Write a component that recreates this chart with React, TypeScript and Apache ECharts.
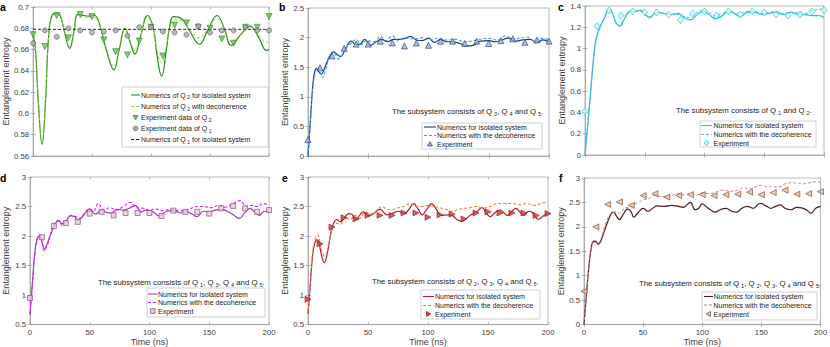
import React, { useEffect, useRef } from "react";
import * as echarts from "echarts";

const FONT = "'Liberation Sans', Arial, Helvetica, sans-serif";

// Experiment sampling times (ns)
const expTimes = [0, 10, 20, 30, 40, 50, 60, 70, 80, 90, 100, 110, 120, 130, 140, 150, 160, 170, 180, 190, 200];

// ---- Panel a ----
const aIso = [[0,0.676],[2,0.66],[4.5,0.61],[7.6,0.571],[10.5,0.61],[13,0.67],[16,0.692],[20,0.694],[23,0.692],[27,0.675],[31,0.661],[34.5,0.676],[38,0.693],[43,0.692],[47,0.6915],[52,0.692],[56,0.685],[62,0.66],[68.5,0.641],[73,0.66],[78,0.68],[82,0.668],[86.4,0.656],[91,0.672],[97,0.692],[102,0.68],[105,0.655],[109,0.635],[113,0.66],[116,0.683],[119,0.691],[126,0.689],[133,0.677],[141,0.665],[148,0.678],[156,0.692],[162,0.68],[168,0.664],[176,0.674],[184,0.682],[191,0.672],[198,0.659],[200,0.66]];
const aDec = [[0,0.676],[2,0.66],[4.5,0.612],[7.6,0.574],[10.5,0.612],[13,0.67],[16,0.691],[20,0.693],[23,0.691],[27,0.676],[31,0.663],[34.5,0.677],[38,0.692],[43,0.691],[47,0.69],[52,0.69],[56,0.684],[62,0.662],[68.5,0.644],[73,0.661],[78,0.679],[82,0.669],[86.4,0.659],[91,0.673],[97,0.69],[102,0.679],[105,0.66],[109,0.647],[113,0.664],[116,0.681],[119,0.688],[126,0.687],[133,0.678],[141,0.671],[148,0.679],[156,0.689],[162,0.68],[168,0.667],[176,0.674],[184,0.681],[191,0.674],[198,0.667],[200,0.667]];
const aQ1Num = [[0,0.679],[200,0.679]];
const aQ2Exp = [0.674,0.663,0.692,0.671,0.693,0.691,0.669,0.658,0.655,0.668,0.681,0.654,0.683,0.685,0.681,0.68,0.67,0.666,0.681,0.681,0.691];
const aQ1Exp = [0.666,0.678,0.672,0.68,0.678,0.676,0.677,0.678,0.673,0.681,0.681,0.677,0.676,0.674,0.682,0.676,0.678,0.678,0.681,0.678,0.678];

// ---- Panel b ----
const bIso = [[0,0],[2,0.6],[4,1.2],[5.5,1.42],[7,1.48],[9,1.42],[11,1.38],[14,1.5],[18,1.68],[21,1.76],[24,1.72],[27,1.68],[31,1.8],[36,1.94],[40,1.88],[44,1.9],[47,1.97],[52,1.87],[56,1.92],[61,1.97],[66,1.93],[71,1.97],[76,1.97],[81,1.99],[85,2.02],[90,1.96],[95,1.95],[100,1.99],[105,1.92],[110,1.97],[115,1.93],[120,1.93],[126,1.9],[132,1.86],[137,1.87],[143,1.94],[150,1.95],[155,1.93],[160,1.95],[166,1.99],[172,1.94],[178,1.96],[184,1.97],[190,1.92],[195,1.96],[200,1.92]];
const bDec = [[0,0],[2,0.6],[4,1.15],[6,1.4],[8,1.5],[10,1.42],[12,1.33],[15,1.48],[19,1.72],[22,1.72],[25,1.64],[28,1.7],[32,1.85],[36,1.9],[40,1.97],[44,1.88],[49,1.95],[55,1.93],[60,2.02],[65,1.95],[70,2.03],[75,1.95],[80,1.99],[88,1.98],[95,2.0],[100,1.96],[108,1.99],[115,1.96],[122,1.97],[130,1.93],[138,1.95],[145,1.98],[150,1.99],[157,1.96],[164,2.03],[170,1.98],[176,1.99],[182,2.01],[188,1.95],[195,1.99],[200,1.96]];
const bExp = [0.28,1.49,1.69,1.82,1.89,1.89,1.94,1.91,1.86,1.91,1.87,1.94,1.94,1.9,1.94,1.9,1.95,1.98,1.92,1.96,1.94];

// ---- Panel c ----
const cIso = [[0,0],[4,0.5],[8,1.0],[10,1.12],[12.5,1.2],[16,1.28],[20,1.37],[23,1.33],[26,1.24],[29,1.21],[33,1.28],[37.5,1.35],[42,1.35],[46,1.36],[50,1.33],[54,1.29],[60,1.34],[66,1.33],[72,1.32],[78,1.33],[83,1.29],[88,1.27],[94,1.32],[99,1.35],[104,1.32],[109,1.28],[115,1.31],[120,1.35],[125,1.33],[130,1.3],[136,1.34],[142,1.34],[148,1.32],[154,1.33],[160,1.34],[166,1.32],[172,1.34],[178,1.32],[184,1.32],[190,1.31],[196,1.31],[200,1.29]];
const cDec = [[0,0],[4,0.5],[8,1.0],[10,1.12],[12.5,1.2],[16,1.28],[20,1.36],[23,1.33],[26,1.25],[29,1.22],[33,1.28],[37.5,1.34],[42,1.35],[46,1.35],[50,1.32],[54,1.3],[60,1.34],[66,1.33],[72,1.32],[78,1.32],[83,1.3],[88,1.29],[94,1.34],[99,1.36],[104,1.34],[109,1.31],[115,1.33],[120,1.36],[125,1.34],[130,1.33],[136,1.35],[142,1.35],[148,1.33],[154,1.34],[160,1.35],[166,1.33],[172,1.34],[178,1.34],[184,1.33],[190,1.35],[196,1.37],[200,1.37]];
const cExp = [0.41,1.21,1.36,1.31,1.35,1.34,1.34,1.32,1.27,1.33,1.35,1.31,1.35,1.32,1.35,1.34,1.32,1.31,1.32,1.35,1.36];

// ---- Panel d ----
const dIso = [[0,0.67],[2,1.2],[4,1.7],[6,1.95],[8,2.0],[10,1.9],[12,1.78],[14,1.85],[17,2.02],[20,2.15],[24,2.27],[27,2.21],[30,2.25],[34,2.34],[37,2.33],[40,2.27],[44,2.33],[50,2.46],[55,2.37],[60,2.44],[64,2.4],[68,2.39],[73,2.45],[78,2.44],[83,2.47],[88,2.52],[93,2.41],[97,2.44],[101,2.43],[105,2.38],[108,2.34],[114,2.42],[120,2.43],[126,2.39],[130,2.42],[135,2.38],[140,2.33],[145,2.42],[150,2.41],[155,2.44],[160,2.45],[165,2.42],[170,2.36],[175,2.3],[180,2.4],[184,2.47],[188,2.41],[192,2.35],[196,2.42],[200,2.41]];
const dDec = [[0,0.67],[2,1.2],[4,1.7],[6,1.95],[8,2.02],[10,1.9],[12,1.75],[14,1.82],[17,2.0],[20,2.2],[24,2.25],[27,2.18],[30,2.24],[34,2.35],[38,2.33],[42,2.3],[46,2.4],[50,2.45],[53,2.42],[57,2.55],[62,2.44],[67,2.48],[72,2.44],[78,2.5],[84,2.57],[89,2.48],[95,2.47],[100,2.44],[105,2.46],[110,2.43],[118,2.45],[125,2.43],[132,2.45],[140,2.5],[145,2.5],[152,2.48],[158,2.52],[163,2.49],[170,2.55],[176,2.6],[181,2.5],[186,2.52],[190,2.5],[195,2.55],[200,2.52]];
const dExp = [0.95,1.98,2.17,2.22,2.24,2.38,2.41,2.35,2.39,2.39,2.39,2.34,2.43,2.41,2.41,2.38,2.47,2.51,2.47,2.41,2.44];

// ---- Panel e ----
const eIso = [[0,0.68],[2,1.2],[4,1.7],[6,1.9],[7.5,1.94],[9,1.9],[11,1.7],[13.5,1.55],[16,1.7],[19,2.05],[21,2.2],[24,2.28],[27,2.24],[30,2.3],[34,2.38],[37,2.36],[40,2.28],[43,2.35],[46,2.41],[50,2.34],[54,2.37],[60,2.45],[66,2.36],[70,2.38],[75,2.42],[80,2.38],[84,2.45],[88,2.55],[92,2.45],[95,2.36],[99,2.45],[103,2.55],[107,2.45],[111,2.35],[116,2.36],[120,2.35],[124,2.28],[128,2.25],[132,2.3],[136,2.36],[141,2.42],[145,2.48],[149,2.38],[152,2.33],[156,2.4],[160,2.44],[163,2.4],[166,2.35],[170,2.42],[173,2.47],[177,2.4],[180,2.35],[184,2.42],[187,2.4],[192,2.28],[196,2.34],[200,2.38]];
const eDec = [[0,0.68],[2,1.25],[4,1.75],[6,1.95],[8,2.02],[10,1.9],[12,1.72],[14,1.65],[17,1.85],[20,2.1],[23,2.22],[27,2.2],[31,2.32],[35,2.28],[39,2.35],[43,2.3],[48,2.4],[53,2.38],[58,2.45],[62,2.5],[66,2.45],[70,2.45],[75,2.48],[80,2.5],[85,2.55],[90,2.5],[95,2.5],[100,2.52],[105,2.5],[110,2.48],[115,2.45],[120,2.42],[125,2.45],[130,2.47],[135,2.48],[140,2.5],[146,2.48],[152,2.5],[158,2.55],[163,2.55],[170,2.55],[176,2.53],[182,2.55],[188,2.52],[194,2.55],[200,2.58]];
const eExp = [0.93,1.87,2.15,2.31,2.29,2.35,2.35,2.35,2.39,2.39,2.32,2.36,2.37,2.29,2.39,2.41,2.39,2.39,2.39,2.35,2.38];

// ---- Panel f ----
const fIso = [[0,0],[2,0.6],[4,1.15],[6,1.55],[8,1.7],[10,1.7],[12,1.64],[14,1.7],[17,1.9],[20,2.1],[23,2.27],[25,2.3],[28,2.2],[30,2.15],[33,2.25],[37,2.37],[40,2.3],[42,2.2],[46,2.3],[50,2.38],[54,2.32],[58,2.38],[62,2.43],[68,2.42],[74,2.44],[80,2.42],[84,2.4],[87,2.45],[90,2.5],[94,2.35],[97,2.38],[100,2.47],[104,2.4],[107,2.35],[111,2.3],[115,2.35],[120,2.38],[125,2.32],[129,2.3],[133,2.37],[138,2.42],[143,2.38],[149,2.48],[154,2.43],[158,2.38],[162,2.42],[166,2.45],[170,2.38],[175,2.35],[180,2.4],[184,2.39],[188,2.35],[192,2.28],[196,2.38],[200,2.42]];
const fDec = [[0,0],[2,0.6],[4,1.15],[6,1.55],[8,1.72],[10,1.72],[12,1.68],[15,1.8],[18,2.05],[22,2.25],[26,2.3],[30,2.28],[34,2.38],[38,2.4],[42,2.45],[46,2.5],[50,2.55],[55,2.58],[60,2.65],[65,2.62],[70,2.62],[75,2.65],[80,2.68],[85,2.65],[90,2.68],[95,2.65],[100,2.7],[106,2.68],[112,2.72],[118,2.75],[124,2.73],[130,2.75],[135,2.8],[140,2.78],[145,2.82],[150,2.85],[155,2.82],[160,2.82],[165,2.82],[170,2.88],[175,2.9],[180,2.9],[185,2.88],[190,2.9],[195,2.92],[200,2.92]];
const fExp = [0.68,2.0,2.46,2.51,2.44,2.64,2.68,2.61,2.64,2.66,2.66,2.64,2.66,2.67,2.71,2.66,2.7,2.75,2.67,2.68,2.72];

// y-axis ranges per panel
const yMins = [0.56, 0, 0, 0.5, 0.5, 0];
const yMaxs = [0.7, 2.5, 1.4, 3, 3, 3];
const yIntervals = [0.02, 0.5, 0.2, 0.5, 0.5, 0.5];

const annotations = [
  "",
  "The subsystem consists of Q{s|3}, Q{s|4} and Q{s|5}.",
  "The subsystem consists of Q{s|1} and Q{s|2}.",
  "The subsystem consists of Q{s|1}, Q{s|3}, Q{s|4} and Q{s|5}.",
  "The subsystem consists of Q{s|2}, Q{s|3}, Q{s|4} and Q{s|5}.",
  "The subsystem consists of Q{s|1}, Q{s|2}, Q{s|3}, Q{s|4} and Q{s|5}.",
];
const isoLabel = "Numerics for isolated system";
const decLabel = "Numerics with the decoherence";
const expLabel = "Experiment";
const aLabels = [
  "Numerics of Q{s|2} for isolated system",
  "Numerics of Q{s|2} with decoherence",
  "Experiment data of Q{s|2}",
  "Experiment data of Q{s|1}",
  "Numerics of Q{s|1} for isolated system",
];

const zip = (vals: number[]) => expTimes.map((t, i) => [t, vals[i]]);

// colours
const C = {
  aIso: "#1e8c1e", aDec: "#9ccc3a", aQ1Num: "#222222", aQ2Fill: "#6fc150", aQ2Edge: "#2f8a2f", aQ1Fill: "#a8a8a8", aQ1Edge: "#5a5a5a",
  bIso: "#1d3d73", bDec: "#3aa3e6", bFill: "#9eaed9", bEdge: "#243f78",
  cIso: "#28c7c9", cDec: "#5aaee6", cFill: "#d2f6f6", cEdge: "#1fbfd0",
  dIso: "#9b3fae", dDec: "#e21ee2", dFill: "#e6c8dc", dEdge: "#85476e",
  eIso: "#b41d2e", eDec: "#f28044", eFill: "#d23a38", eEdge: "#8f1a1a",
  fIso: "#4b1a1c", fDec: "#c48282", fFill: "#e9c08f", fEdge: "#7d3f3f",
};

export default function App() {
  const ref = useRef<HTMLDivElement>(null);
  useEffect(() => {
    if (!ref.current) return;
    const chart = echarts.init(ref.current, undefined, { renderer: "svg" });

    const grids = [
      { left: 31, top: 7, width: 238, height: 149 },
      { left: 308, top: 8, width: 241, height: 148 },
      { left: 585, top: 6, width: 239, height: 149 },
      { left: 29, top: 177, width: 240, height: 148 },
      { left: 308, top: 177, width: 240, height: 148 },
      { left: 584, top: 178, width: 240, height: 148 },
    ];
    const yNameGaps = [21, 14.5, 15.5, 20, 17, 16.5];
    const axisColor = "#8c8c8c";
    const labelColor = "#404040";
    const tick = { show: true, inside: true, length: 2.5, lineStyle: { color: axisColor, width: 0.6 } };

    const xAxes: any[] = [];
    const yAxes: any[] = [];
    grids.forEach((_, i) => {
      xAxes.push({
        gridIndex: i, type: "value", min: 0, max: 200, interval: 50,
        name: i >= 3 ? "Time (ns)" : "", nameLocation: "middle", nameGap: 12,
        nameTextStyle: { fontSize: 9, color: labelColor, fontFamily: FONT },
        axisLine: { lineStyle: { color: axisColor, width: 0.6 } },
        axisTick: tick,
        axisLabel: { show: i >= 3, fontSize: 7.8, color: labelColor, margin: 3.5, fontFamily: FONT },
        splitLine: { show: false },
      });
      xAxes.push({
        gridIndex: i, type: "value", min: 0, max: 200, interval: 50, position: "top",
        axisLine: { show: false }, axisTick: tick, axisLabel: { show: false }, splitLine: { show: false },
      });
      yAxes.push({
        gridIndex: i, type: "value", min: yMins[i], max: yMaxs[i], interval: yIntervals[i],
        name: "Entanglement entropy", nameLocation: "middle", nameGap: yNameGaps[i],
        nameTextStyle: { fontSize: 9, color: labelColor, fontFamily: FONT },
        axisLine: { lineStyle: { color: axisColor, width: 0.6 } },
        axisTick: tick,
        axisLabel: {
          fontSize: 7.8, color: labelColor, margin: 4, fontFamily: FONT,
          formatter: (v: number) => String(parseFloat(v.toFixed(3))),
        },
        splitLine: { show: false },
      });
      yAxes.push({
        gridIndex: i, type: "value", min: yMins[i], max: yMaxs[i], interval: yIntervals[i], position: "right",
        axisLine: { show: false }, axisTick: tick, axisLabel: { show: false }, splitLine: { show: false },
      });
    });

    const line = (idx: number, data: number[][], color: string, dashed: boolean, width = 1.1) => ({
      type: "line", xAxisIndex: idx * 2, yAxisIndex: idx * 2, data,
      smooth: 0.45, symbol: "none",
      lineStyle: { color, width, type: dashed ? [3, 2] : "solid" },
      itemStyle: { color }, z: 2,
    });
    const scatter = (idx: number, vals: number[], symbol: string, size: any, fill: string, edge: string) => ({
      type: "scatter", xAxisIndex: idx * 2, yAxisIndex: idx * 2, data: zip(vals),
      symbol, symbolSize: size,
      itemStyle: { color: fill, borderColor: edge, borderWidth: 0.8 }, z: 3,
    });

    const triDown = "path://M0,0L10,0L5,9Z";
    const triUp = "path://M5,0L10,9L0,9Z";
    const triRight = "path://M0,0L9,5L0,10Z";
    const triLeft = "path://M9,0L0,5L9,10Z";

    const series = [
      line(0, aIso, C.aIso, false, 1.2),
      line(0, aDec, C.aDec, true, 1.0),
      line(0, aQ1Num, C.aQ1Num, true, 1.0),
      scatter(0, aQ2Exp, triDown, 6, C.aQ2Fill, C.aQ2Edge),
      scatter(0, aQ1Exp, "circle", 5, C.aQ1Fill, C.aQ1Edge),
      line(1, bIso, C.bIso, false, 1.2),
      line(1, bDec, C.bDec, true, 1.1),
      scatter(1, bExp, triUp, 6, C.bFill, C.bEdge),
      line(2, cIso, C.cIso, false, 1.3),
      line(2, cDec, C.cDec, true, 1.0),
      scatter(2, cExp, "diamond", [6, 7], C.cFill, C.cEdge),
      line(3, dIso, C.dIso, false, 1.2),
      line(3, dDec, C.dDec, true, 1.1),
      scatter(3, dExp, "rect", 5, C.dFill, C.dEdge),
      line(4, eIso, C.eIso, false, 1.2),
      line(4, eDec, C.eDec, true, 1.1),
      scatter(4, eExp, triRight, 6, C.eFill, C.eEdge),
      line(5, fIso, C.fIso, false, 1.2),
      line(5, fDec, C.fDec, true, 1.0),
      scatter(5, fExp, triLeft, 6, C.fFill, C.fEdge),
    ];

    // ---- legends (drawn as graphics) ----
    const subRich = { s: { fontSize: 5, lineHeight: 3, verticalAlign: "bottom", padding: [0, 0, 0, 1.5], fontFamily: FONT, fill: "#222" } };
    const graphics: any[] = [];
    const marker = (shape: string, cx: number, cy: number, fill: string, edge: string) => {
      const s = 5;
      const st = { fill, stroke: edge, lineWidth: 0.7 };
      if (shape === "circle") return { type: "circle", shape: { cx, cy, r: 2.3 }, style: st, z: 21 };
      if (shape === "rect") return { type: "rect", shape: { x: cx - 2.3, y: cy - 2.3, width: 4.6, height: 4.6 }, style: st, z: 21 };
      let pts: number[][] = [];
      if (shape === "down") pts = [[cx - s / 2, cy - 2], [cx + s / 2, cy - 2], [cx, cy + 2.3]];
      if (shape === "up") pts = [[cx - s / 2, cy + 2], [cx + s / 2, cy + 2], [cx, cy - 2.3]];
      if (shape === "right") pts = [[cx - 2, cy - s / 2], [cx - 2, cy + s / 2], [cx + 2.3, cy]];
      if (shape === "left") pts = [[cx + 2, cy - s / 2], [cx + 2, cy + s / 2], [cx - 2.3, cy]];
      if (shape === "diamond") pts = [[cx, cy - 3], [cx + 2.3, cy], [cx, cy + 3], [cx - 2.3, cy]];
      return { type: "polygon", shape: { points: pts }, style: st, z: 21 };
    };
    type Item = { label: string; kind: "line" | "marker"; color?: string; dash?: boolean; shape?: string; fill?: string; edge?: string };
    const legendSpecs: { box: number[]; rows: number[]; icon: number[]; textX: number; items: Item[] }[] = [
      {
        box: [122, 87, 146, 60], rows: [95, 106.5, 117.5, 128.5, 139.5], icon: [131, 140], textX: 141,
        items: [
          { label: aLabels[0], kind: "line", color: C.aIso },
          { label: aLabels[1], kind: "line", color: C.aDec, dash: true },
          { label: aLabels[2], kind: "marker", shape: "down", fill: C.aQ2Fill, edge: C.aQ2Edge },
          { label: aLabels[3], kind: "marker", shape: "circle", fill: C.aQ1Fill, edge: C.aQ1Edge },
          { label: aLabels[4], kind: "line", color: C.aQ1Num, dash: true },
        ],
      },
      {
        box: [422, 123, 120, 26], rows: [127, 135.5, 144], icon: [424, 436], textX: 437,
        items: [
          { label: isoLabel, kind: "line", color: C.bIso },
          { label: decLabel, kind: "line", color: C.bDec, dash: true },
          { label: expLabel, kind: "marker", shape: "up", fill: C.bFill, edge: C.bEdge },
        ],
      },
      {
        box: [700, 121, 116, 26], rows: [125.5, 134.5, 143], icon: [701, 712], textX: 713.5,
        items: [
          { label: isoLabel, kind: "line", color: C.cIso },
          { label: decLabel, kind: "line", color: C.cDec, dash: true },
          { label: expLabel, kind: "marker", shape: "diamond", fill: C.cFill, edge: C.cEdge },
        ],
      },
      {
        box: [147, 288, 118, 29], rows: [294, 302.5, 311], icon: [148, 157.5], textX: 158,
        items: [
          { label: isoLabel, kind: "line", color: C.dIso },
          { label: decLabel, kind: "line", color: C.dDec, dash: true },
          { label: expLabel, kind: "marker", shape: "rect", fill: C.dFill, edge: C.dEdge },
        ],
      },
      {
        box: [421, 290, 119, 29], rows: [296.5, 305.5, 314], icon: [423, 434], textX: 435,
        items: [
          { label: isoLabel, kind: "line", color: C.eIso },
          { label: decLabel, kind: "line", color: C.eDec, dash: true },
          { label: expLabel, kind: "marker", shape: "right", fill: C.eFill, edge: C.eEdge },
        ],
      },
      {
        box: [702, 292, 115, 28], rows: [296.5, 305, 314], icon: [704, 713], textX: 713.5,
        items: [
          { label: isoLabel, kind: "line", color: C.fIso },
          { label: decLabel, kind: "line", color: C.fDec, dash: true },
          { label: expLabel, kind: "marker", shape: "left", fill: C.fFill, edge: C.fEdge },
        ],
      },
    ];
    legendSpecs.forEach((lg) => {
      graphics.push({
        type: "rect",
        shape: { x: lg.box[0], y: lg.box[1], width: lg.box[2], height: lg.box[3] },
        style: { fill: "#ffffff", stroke: "#b4b4b4", lineWidth: 0.6 },
        z: 20,
      });
      lg.items.forEach((it, k) => {
        const y = lg.rows[k];
        if (it.kind === "line") {
          graphics.push({
            type: "line",
            shape: { x1: lg.icon[0], y1: y, x2: lg.icon[1], y2: y },
            style: { stroke: it.color, lineWidth: 1.1, lineDash: it.dash ? [3, 2] : null },
            z: 21,
          });
        } else {
          graphics.push(marker(it.shape!, (lg.icon[0] + lg.icon[1]) / 2, y, it.fill!, it.edge!));
        }
        graphics.push({
          type: "text",
          x: lg.textX,
          y,
          style: {
            text: it.label, fontSize: 7, lineHeight: 9, fill: "#222", fontFamily: FONT,
            verticalAlign: "middle", rich: subRich,
          },
          z: 22,
        });
      });
    });

    const annotPos = [null, { x: 392, y: 111.5 }, { x: 676, y: 110.5 }, { x: 98, y: 282.5 }, { x: 372, y: 281.5 }, { x: 639, y: 283.5 }];
    annotPos.forEach((p, i) => {
      if (!p) return;
      graphics.push({
        type: "text", x: p.x, y: p.y,
        style: {
          text: annotations[i], fontSize: 7.8, lineHeight: 10, fill: "#222", fontFamily: FONT,
          verticalAlign: "middle",
          rich: { s: { fontSize: 5.5, lineHeight: 3.5, verticalAlign: "bottom", padding: [0, 0, 0, 2], fontFamily: FONT, fill: "#222" } },
        },
        z: 10,
      });
    });
    const letters = [
      { t: "a", x: 0, y: 1 }, { t: "b", x: 279, y: 1 }, { t: "c", x: 558, y: 1 },
      { t: "d", x: 0, y: 172 }, { t: "e", x: 282, y: 172 }, { t: "f", x: 559, y: 172 },
    ];
    letters.forEach((l) =>
      graphics.push({
        type: "text", x: l.x, y: l.y,
        style: { text: l.t, fontSize: 10.5, fontWeight: "bold", fill: "#000", fontFamily: FONT },
        z: 10,
      })
    );

    chart.setOption({
      animation: false,
      backgroundColor: "#ffffff",
      textStyle: { fontFamily: FONT },
      grid: grids.map((g) => ({ ...g, show: true, borderColor: axisColor, borderWidth: 0.6, backgroundColor: "transparent" })),
      xAxis: xAxes,
      yAxis: yAxes,
      series,
      graphic: graphics,
    } as any);

    return () => chart.dispose();
  }, []);

  return <div ref={ref} style={{ position: "fixed", left: 0, top: 0, width: 830, height: 347, background: "#fff" }} />;
}
